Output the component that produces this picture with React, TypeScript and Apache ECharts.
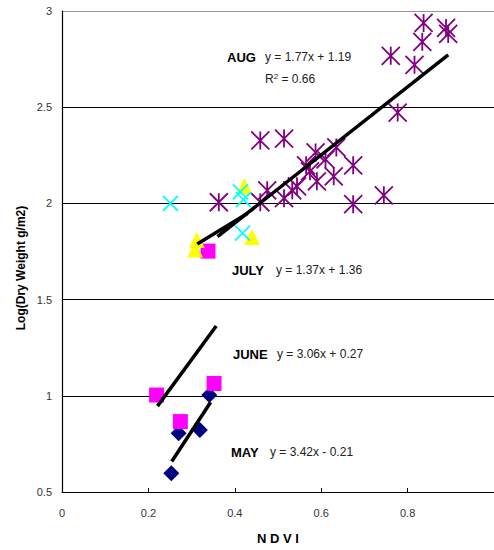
import React, { useEffect, useRef } from "react";
import * as echarts from "echarts";

// ---- data (NDVI, Log dry weight) ----
const augPoints: [number, number][] = [
  [0.837, 2.938], [0.834, 2.84], [0.889, 2.912], [0.894, 2.881], [0.761, 2.767],
  [0.816, 2.72], [0.777, 2.472], [0.459, 2.327], [0.514, 2.337], [0.587, 2.265],
  [0.635, 2.291], [0.61, 2.229], [0.674, 2.198], [0.565, 2.198], [0.574, 2.167],
  [0.629, 2.141], [0.59, 2.115], [0.544, 2.089], [0.533, 2.068], [0.475, 2.068],
  [0.514, 2.027], [0.459, 2.006], [0.674, 1.996], [0.745, 2.042], [0.363, 2.006],
];
const julyTriangles: [number, number][] = [
  [0.312, 1.81], [0.308, 1.76], [0.422, 2.09], [0.44, 1.825],
];
const julyCrosses: [number, number][] = [
  [0.251, 2.0], [0.413, 2.06], [0.42, 2.02], [0.418, 1.846],
];
const juneSquares: [number, number][] = [
  [0.219, 1.004], [0.352, 1.064], [0.274, 0.866], [0.338, 1.752],
];
const mayDiamonds: [number, number][] = [
  [0.341, 1.004], [0.27, 0.805], [0.319, 0.822], [0.253, 0.598],
];

// trend lines: slope, intercept, x range
const trendSlopes = [1.77, 1.37, 3.06, 3.42];
const trendIntercepts = [1.19, 1.36, 0.27, -0.21];
const trendStarts = [0.36, 0.313, 0.221, 0.254];
const trendEnds = [0.894, 0.43, 0.357, 0.344];

const xTicks = { min: 0, max: 1, interval: 0.2 };
const yTicks = { min: 0.5, max: 3, interval: 0.5 };

const ASTERISK = "path://M5,0L5,10M0,0L10,10M0,10L10,0";
const XMARK = "path://M0,0L10,10M0,10L10,0";

export default function App() {
  const ref = useRef<HTMLDivElement>(null);
  useEffect(() => {
    if (!ref.current) return;
    const chart = echarts.init(ref.current, undefined, { renderer: "svg" });
    const font = "Liberation Sans, Arial, sans-serif";
    const trendSeries = trendSlopes.map((m, i) => ({
      type: "line",
      data: [
        [trendStarts[i], m * trendStarts[i] + trendIntercepts[i]],
        [trendEnds[i], m * trendEnds[i] + trendIntercepts[i]],
      ],
      symbol: "none",
      lineStyle: { color: "#000", width: 3.5 },
      z: 10,
      silent: true,
    }));
    const eqStyle = { fontFamily: font, fontSize: 12, fill: "#222" };
    const monStyle = { fontFamily: font, fontSize: 13, fontWeight: "bold", fill: "#000" };
    chart.setOption({
      animation: false,
      backgroundColor: "#fff",
      grid: { left: 62, top: 11, width: 437.5, height: 483 },
      xAxis: {
        type: "value",
        ...xTicks,
        name: "N D V I",
        nameLocation: "middle",
        nameGap: 40,
        nameTextStyle: { fontFamily: font, fontSize: 13, fontWeight: "bold", color: "#000" },
        axisLine: { lineStyle: { color: "#000", width: 1.2 } },
        axisTick: { inside: true, length: 4, lineStyle: { color: "#000" } },
        axisLabel: { fontFamily: font, fontSize: 11, color: "#333", margin: 15, showMaxLabel: false },
        splitLine: { show: false },
      },
      yAxis: {
        type: "value",
        ...yTicks,
        axisLine: { show: true, lineStyle: { color: "#000", width: 1.2 } },
        axisTick: { show: false },
        axisLabel: { fontFamily: font, fontSize: 11, color: "#333", margin: 10 },
        splitLine: {
          lineStyle: { color: ["#000", "#000", "#000", "#000", "#000", "#999"], width: 1 },
        },
      },
      graphic: [
        {
          type: "text",
          x: 21,
          y: 268,
          rotation: Math.PI / 2,
          style: {
            text: "Log(Dry Weight g/m2)",
            fontFamily: font,
            fontSize: 12,
            fontWeight: "bold",
            fill: "#000",
            align: "center",
            verticalAlign: "middle",
          },
        },
        { type: "text", x: 227, y: 57, style: { text: "AUG", ...monStyle, verticalAlign: "middle" } },
        { type: "text", x: 265, y: 57, style: { text: "y = 1.77x + 1.19", ...eqStyle, verticalAlign: "middle" } },
        {
          type: "text",
          x: 265,
          y: 79,
          style: {
            text: "R{sup|2} = 0.66",
            ...eqStyle,
            verticalAlign: "middle",
            rich: { sup: { fontFamily: font, fontSize: 8, fill: "#222", verticalAlign: "top", padding: [0, 0, 6, 0] } },
          },
        },
        { type: "text", x: 232, y: 270, style: { text: "JULY", ...monStyle, verticalAlign: "middle" } },
        { type: "text", x: 276, y: 270, style: { text: "y = 1.37x + 1.36", ...eqStyle, verticalAlign: "middle" } },
        { type: "text", x: 233, y: 354, style: { text: "JUNE", ...monStyle, verticalAlign: "middle" } },
        { type: "text", x: 277, y: 354, style: { text: "y = 3.06x + 0.27", ...eqStyle, verticalAlign: "middle" } },
        { type: "text", x: 231, y: 452, style: { text: "MAY", ...monStyle, verticalAlign: "middle" } },
        { type: "text", x: 270, y: 452, style: { text: "y = 3.42x - 0.21", ...eqStyle, verticalAlign: "middle" } },
      ],
      series: [
        {
          type: "scatter",
          name: "MAY",
          data: mayDiamonds,
          symbol: "diamond",
          symbolSize: 16,
          itemStyle: { color: "#000080", opacity: 1 },
        },
        {
          type: "scatter",
          name: "JUNE",
          data: juneSquares,
          symbol: "rect",
          symbolSize: 15,
          itemStyle: { color: "#ff00ff", opacity: 1 },
        },
        {
          type: "scatter",
          name: "JULY",
          data: julyTriangles,
          symbol: "triangle",
          symbolSize: 16,
          itemStyle: { color: "#ffff00", opacity: 1 },
        },
        {
          type: "scatter",
          name: "JULY2",
          data: julyCrosses,
          symbol: XMARK,
          symbolSize: 15,
          itemStyle: { color: "transparent", borderColor: "#00ffff", borderWidth: 1.8, opacity: 1 },
        },
        {
          type: "scatter",
          name: "AUG",
          data: augPoints,
          symbol: ASTERISK,
          symbolSize: 18,
          itemStyle: { color: "transparent", borderColor: "#800080", borderWidth: 1.8, opacity: 1 },
        },
        ...trendSeries,
      ],
    });
    return () => chart.dispose();
  }, []);
  return (
    <div
      ref={ref}
      style={{ position: "fixed", left: 0, top: 0, width: 494, height: 550 }}
    />
  );
}
